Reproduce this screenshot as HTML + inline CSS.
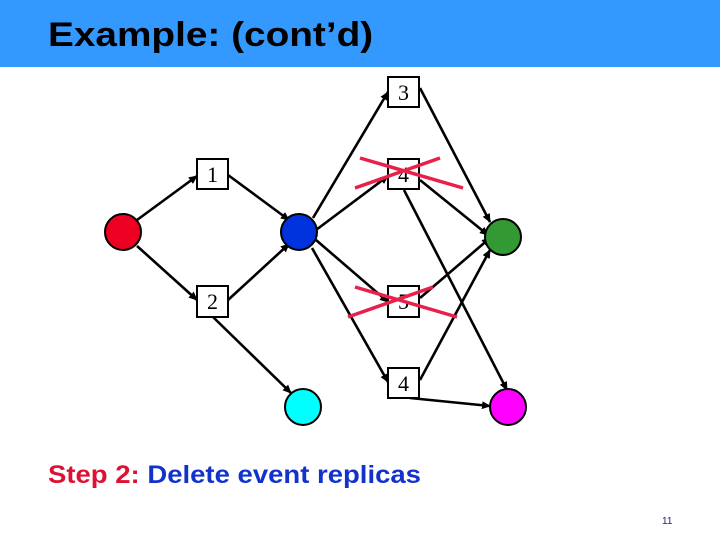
<!DOCTYPE html>
<html><head><style>
body{margin:0;width:720px;height:540px;overflow:hidden;background:#fff;position:relative;font-family:"Liberation Sans",sans-serif}
#hdr{position:absolute;left:0;top:0;width:720px;height:67px;background:#3399ff}
#title{position:absolute;left:48px;top:16px;font-size:34px;font-weight:bold;color:#000;transform:scaleX(1.14);transform-origin:left top;white-space:nowrap}
#step{position:absolute;left:48px;top:461px;font-size:25px;font-weight:bold;white-space:nowrap;transform:scaleX(1.1);transform-origin:left top}
#pg{position:absolute;left:662px;top:516px;font-size:10px;color:#1a237e}
svg{position:absolute;left:0;top:0}
</style></head><body>
<div id="hdr"></div>
<div id="title">Example: (cont’d)</div>
<svg width="720" height="540" viewBox="0 0 720 540">
<defs><marker id="a" markerWidth="9" markerHeight="8" refX="8" refY="4" orient="auto" markerUnits="userSpaceOnUse"><path d="M0,0 L9,4 L0,8 z" fill="#000"/></marker></defs>
<g stroke="#000" stroke-width="2.6" marker-end="url(#a)">
<line x1="137" y1="220" x2="197" y2="176"/>
<line x1="137" y1="246" x2="197" y2="300"/>
<line x1="228" y1="175" x2="289" y2="220"/>
<line x1="228" y1="300" x2="289" y2="244"/>
<line x1="313" y1="218" x2="388" y2="92"/>
<line x1="316" y1="230" x2="388" y2="176"/>
<line x1="316" y1="240" x2="388" y2="302"/>
<line x1="312" y1="248" x2="388" y2="382"/>
<line x1="420" y1="88" x2="490" y2="222"/>
<line x1="420" y1="180" x2="488" y2="235"/>
<line x1="404" y1="190" x2="507" y2="390"/>
<line x1="420" y1="298" x2="490" y2="238"/>
<line x1="420" y1="380" x2="490" y2="250"/>
<line x1="410" y1="398" x2="490" y2="406"/>
<line x1="213" y1="317" x2="291" y2="393"/>
</g>
<g fill="#fff" stroke="#000" stroke-width="2">
<rect x="197" y="159" width="31" height="30"/>
<rect x="197" y="286" width="31" height="31"/>
<rect x="388" y="77" width="31" height="30"/>
<rect x="388" y="159" width="31" height="30"/>
<rect x="388" y="286" width="31" height="31"/>
<rect x="388" y="368" width="31" height="30"/>
</g>
<g font-family="Liberation Serif,serif" font-size="22" text-anchor="middle" fill="#000">
<text x="212.5" y="182">1</text><text x="212.5" y="309">2</text>
<text x="403.5" y="100">3</text><text x="403.5" y="182">4</text>
<text x="403.5" y="309">5</text><text x="403.5" y="391">4</text>
</g>
<g stroke="#000" stroke-width="2">
<circle cx="123" cy="232" r="18" fill="#ee0022"/>
<circle cx="299" cy="232" r="18" fill="#0033dd"/>
<circle cx="503" cy="237" r="18" fill="#339933"/>
<circle cx="303" cy="407" r="18" fill="#00ffff"/>
<circle cx="508" cy="407" r="18" fill="#ff00ff"/>
</g>
<g stroke="#e8204a" stroke-width="3.5">
<line x1="360" y1="158" x2="463" y2="188"/>
<line x1="355" y1="188" x2="440" y2="158"/>
<line x1="355" y1="287" x2="457" y2="317"/>
<line x1="348" y1="317" x2="433" y2="287"/>
</g>
</svg>
<div id="step"><span style="color:#dd1133">Step 2:</span> <span style="color:#1133cc">Delete event replicas</span></div>
<div id="pg">11</div>
</body></html>
